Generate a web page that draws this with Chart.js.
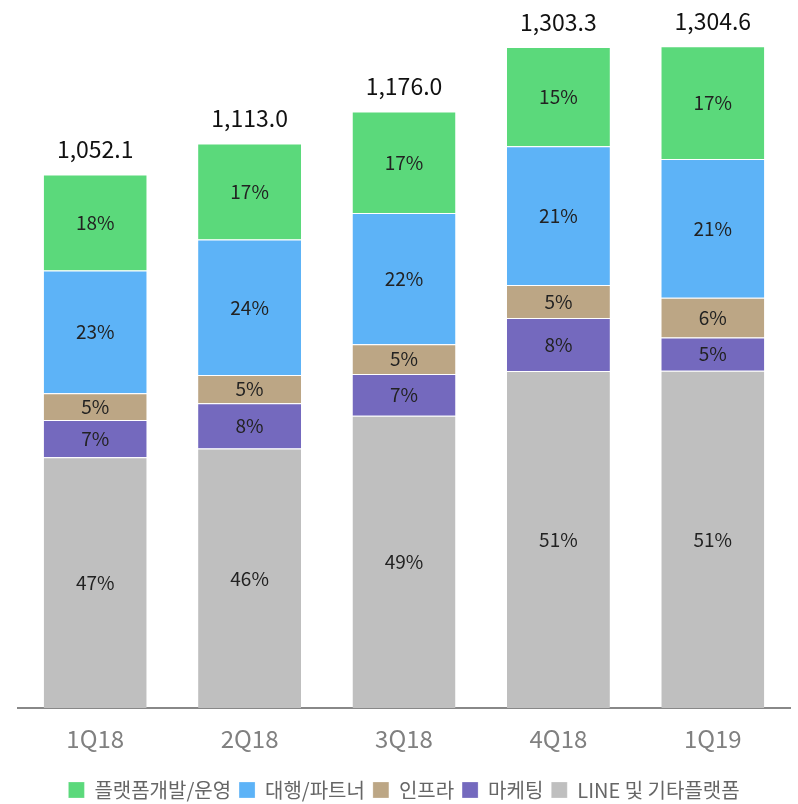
<!DOCTYPE html>
<html>
<head>
<meta charset="utf-8">
<script src="https://cdn.jsdelivr.net/npm/chart.js@4"></script>
<style>
  html, body { margin: 0; padding: 0; background: #fff; }
  #wrap { width: 798px; height: 804px; }
</style>
</head>
<body>
<div id="wrap"><canvas id="chart" width="798" height="804"></canvas></div>
<script>
const quarters = ['1Q18', '2Q18', '3Q18', '4Q18', '1Q19'];
const totals = [1052.1, 1113.0, 1176.0, 1303.3, 1304.6];

// share of each segment, bottom to top
const lineShare = [47, 46, 49, 51, 51];
const marketingShare = [7, 8, 7, 8, 5];
const infraShare = [5, 5, 5, 5, 6];
const agencyShare = [23, 24, 22, 21, 21];
const platformShare = [18, 17, 17, 15, 17];

const FONT = '"Noto Sans CJK KR", "Noto Sans", sans-serif';

function toValues(share) {
  return share.map((p, i) => totals[i] * p / 100);
}

function makeSet(label, share, color) {
  return {
    label: label,
    data: toValues(share),
    share: share,
    backgroundColor: color,
    borderColor: '#fff',
    borderWidth: { top: 1, bottom: 0, left: 0, right: 0 },
    borderSkipped: false,
    categoryPercentage: 1,
    barPercentage: 0.667
  };
}

const labelPlugin = {
  id: 'labels',
  afterDatasetsDraw(chart) {
    const ctx = chart.ctx;
    ctx.save();
    ctx.textAlign = 'center';
    ctx.textBaseline = 'middle';
    ctx.font = '19px ' + FONT;
    ctx.fillStyle = '#222';
    chart.data.datasets.forEach((ds, di) => {
      const meta = chart.getDatasetMeta(di);
      meta.data.forEach((bar, i) => {
        const mid = (bar.y + bar.base) / 2;
        ctx.fillText(ds.share[i] + '%', bar.x, mid);
      });
    });
    // totals above bars
    const topMeta = chart.getDatasetMeta(chart.data.datasets.length - 1);
    ctx.font = '23px ' + FONT;
    ctx.fillStyle = '#111';
    topMeta.data.forEach((bar, i) => {
      const txt = totals[i].toLocaleString('en-US', { minimumFractionDigits: 1, maximumFractionDigits: 1 });
      ctx.fillText(txt, bar.x, bar.y - 25);
    });
    ctx.restore();
  }
};

new Chart(document.getElementById('chart'), {
  type: 'bar',
  data: {
    labels: quarters,
    datasets: [
      makeSet('LINE 및 기타플랫폼', lineShare, '#BFBFBF'),
      makeSet('마케팅', marketingShare, '#7469BE'),
      makeSet('인프라', infraShare, '#BCA685'),
      makeSet('대행/파트너', agencyShare, '#5DB3F7'),
      makeSet('플랫폼개발/운영', platformShare, '#5BD97B')
    ]
  },
  options: {
    responsive: false,
    animation: false,
    layout: { padding: { left: 18, right: 8, top: 0, bottom: -6 } },
    plugins: {
      legend: {
        position: 'bottom',
        reverse: true,
        labels: {
          boxWidth: 16,
          boxHeight: 16,
          padding: 8,
          color: '#666',
          font: { family: FONT, size: 20 }
        }
      },
      tooltip: { enabled: false }
    },
    scales: {
      x: {
        stacked: true,
        grid: { display: false },
        border: { color: '#888', width: 2 },
        ticks: { color: '#808080', padding: 8, font: { family: FONT, size: 24 } },
        afterFit: (scale) => { scale.height += 11; }
      },
      y: {
        stacked: true,
        display: false,
        min: 0,
        max: 1396
      }
    }
  },
  plugins: [labelPlugin]
});
</script>
</body>
</html>
